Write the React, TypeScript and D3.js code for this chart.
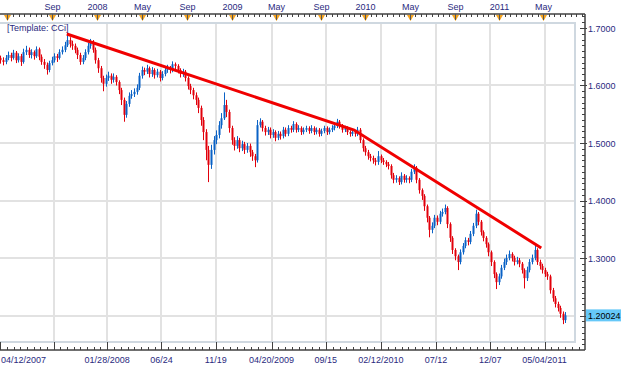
import React from 'react';
import * as d3 from 'd3';

// weekly bars, first bar on 04/12/2007, open of bar i = close of bar i-1
const firstDate = new Date(2007, 3, 12);
const firstOpen = 1.648;

const closes = [
  1.644, 1.641, 1.648, 1.653, 1.648, 1.657, 1.644, 1.651, 1.641, 1.658,
  1.662, 1.653, 1.658, 1.651, 1.663, 1.650, 1.641, 1.636, 1.627, 1.639,
  1.644, 1.651, 1.648, 1.658, 1.662, 1.670, 1.679, 1.672, 1.669, 1.662,
  1.653, 1.641, 1.648, 1.658, 1.669, 1.676, 1.662, 1.644, 1.630, 1.613,
  1.603, 1.613, 1.617, 1.610, 1.615, 1.606, 1.592, 1.575, 1.549, 1.568,
  1.582, 1.585, 1.589, 1.596, 1.617, 1.627, 1.624, 1.630, 1.620, 1.627,
  1.618, 1.624, 1.613, 1.620, 1.627, 1.630, 1.627, 1.637, 1.634, 1.627,
  1.620, 1.624, 1.613, 1.599, 1.592, 1.583, 1.575, 1.561, 1.540, 1.519,
  1.488, 1.462, 1.488, 1.505, 1.514, 1.531, 1.543, 1.566, 1.554, 1.526,
  1.505, 1.495, 1.505, 1.491, 1.498, 1.488, 1.495, 1.484, 1.477, 1.470,
  1.531, 1.537, 1.526, 1.519, 1.523, 1.514, 1.519, 1.509, 1.516, 1.512,
  1.523, 1.516, 1.526, 1.523, 1.533, 1.523, 1.526, 1.519, 1.523, 1.526,
  1.521, 1.526, 1.519, 1.523, 1.516, 1.521, 1.526, 1.519, 1.523, 1.526,
  1.530, 1.537, 1.530, 1.523, 1.526, 1.519, 1.516, 1.519, 1.516, 1.523,
  1.505, 1.491, 1.484, 1.477, 1.474, 1.470, 1.467, 1.477, 1.470, 1.467,
  1.463, 1.460, 1.444, 1.436, 1.439, 1.432, 1.443, 1.436, 1.439, 1.436,
  1.450, 1.457, 1.436, 1.418, 1.408, 1.390, 1.370, 1.349, 1.356, 1.370,
  1.363, 1.377, 1.380, 1.387, 1.359, 1.335, 1.314, 1.303, 1.293, 1.310,
  1.321, 1.331, 1.328, 1.342, 1.356, 1.377, 1.363, 1.345, 1.335, 1.324,
  1.310, 1.293, 1.272, 1.258, 1.268, 1.283, 1.293, 1.300, 1.307, 1.300,
  1.293, 1.296, 1.290, 1.279, 1.265, 1.279, 1.293, 1.300, 1.314, 1.293,
  1.286, 1.279, 1.272, 1.268, 1.244, 1.230, 1.220, 1.213, 1.203, 1.192,
  1.20024,
];

const highs = [
  1.652, 1.649, 1.653, 1.659, 1.657, 1.662, 1.660, 1.656, 1.655, 1.664,
  1.669, 1.666, 1.663, 1.661, 1.668, 1.666, 1.654, 1.646, 1.640, 1.643,
  1.650, 1.656, 1.655, 1.663, 1.668, 1.676, 1.688, 1.684, 1.678, 1.673,
  1.666, 1.657, 1.653, 1.663, 1.674, 1.681, 1.679, 1.666, 1.648, 1.634,
  1.617, 1.619, 1.624, 1.621, 1.621, 1.618, 1.609, 1.596, 1.579, 1.573,
  1.588, 1.592, 1.595, 1.602, 1.622, 1.633, 1.631, 1.636, 1.633, 1.632,
  1.630, 1.629, 1.627, 1.625, 1.632, 1.636, 1.634, 1.642, 1.640, 1.637,
  1.630, 1.629, 1.627, 1.616, 1.603, 1.596, 1.588, 1.579, 1.565, 1.545,
  1.524, 1.495, 1.497, 1.512, 1.522, 1.538, 1.552, 1.588, 1.575, 1.558,
  1.530, 1.510, 1.512, 1.509, 1.504, 1.502, 1.500, 1.499, 1.488, 1.481,
  1.540, 1.543, 1.540, 1.530, 1.528, 1.527, 1.524, 1.522, 1.521, 1.520,
  1.528, 1.527, 1.531, 1.530, 1.538, 1.536, 1.531, 1.529, 1.527, 1.530,
  1.529, 1.531, 1.529, 1.527, 1.526, 1.525, 1.530, 1.529, 1.527, 1.531,
  1.535, 1.542, 1.540, 1.533, 1.530, 1.529, 1.522, 1.523, 1.522, 1.528,
  1.526, 1.508, 1.495, 1.488, 1.481, 1.478, 1.474, 1.486, 1.480, 1.474,
  1.470, 1.467, 1.463, 1.448, 1.444, 1.442, 1.449, 1.446, 1.444, 1.442,
  1.455, 1.463, 1.460, 1.439, 1.421, 1.411, 1.393, 1.373, 1.362, 1.375,
  1.374, 1.382, 1.386, 1.393, 1.390, 1.362, 1.338, 1.317, 1.306, 1.315,
  1.326, 1.336, 1.335, 1.347, 1.361, 1.384, 1.380, 1.366, 1.348, 1.338,
  1.327, 1.313, 1.296, 1.275, 1.273, 1.288, 1.299, 1.306, 1.313, 1.310,
  1.304, 1.302, 1.300, 1.293, 1.282, 1.285, 1.298, 1.306, 1.326, 1.317,
  1.297, 1.290, 1.283, 1.276, 1.271, 1.248, 1.234, 1.224, 1.217, 1.207,
  1.206,
];

const lows = [
  1.638, 1.635, 1.637, 1.644, 1.642, 1.645, 1.639, 1.640, 1.634, 1.638,
  1.653, 1.648, 1.647, 1.645, 1.648, 1.644, 1.636, 1.629, 1.619, 1.623,
  1.635, 1.640, 1.641, 1.645, 1.654, 1.658, 1.667, 1.666, 1.662, 1.656,
  1.646, 1.636, 1.637, 1.644, 1.654, 1.664, 1.657, 1.638, 1.622, 1.605,
  1.590, 1.598, 1.608, 1.603, 1.605, 1.600, 1.585, 1.566, 1.537, 1.544,
  1.563, 1.577, 1.580, 1.584, 1.592, 1.612, 1.618, 1.620, 1.614, 1.615,
  1.612, 1.614, 1.607, 1.609, 1.616, 1.622, 1.621, 1.623, 1.628, 1.621,
  1.614, 1.615, 1.607, 1.593, 1.585, 1.576, 1.566, 1.552, 1.530, 1.505,
  1.470, 1.432, 1.455, 1.480, 1.498, 1.508, 1.525, 1.540, 1.545, 1.518,
  1.497, 1.487, 1.490, 1.484, 1.486, 1.481, 1.483, 1.476, 1.469, 1.458,
  1.466, 1.527, 1.520, 1.513, 1.514, 1.508, 1.509, 1.503, 1.505, 1.506,
  1.508, 1.511, 1.512, 1.518, 1.519, 1.518, 1.519, 1.514, 1.515, 1.519,
  1.516, 1.517, 1.514, 1.515, 1.511, 1.512, 1.517, 1.514, 1.515, 1.519,
  1.522, 1.526, 1.525, 1.518, 1.519, 1.514, 1.511, 1.512, 1.511, 1.512,
  1.500, 1.485, 1.478, 1.471, 1.468, 1.464, 1.461, 1.462, 1.465, 1.462,
  1.458, 1.454, 1.438, 1.430, 1.431, 1.427, 1.428, 1.431, 1.431, 1.430,
  1.432, 1.446, 1.430, 1.412, 1.401, 1.382, 1.362, 1.336, 1.343, 1.352,
  1.357, 1.359, 1.372, 1.376, 1.352, 1.328, 1.307, 1.296, 1.279, 1.289,
  1.306, 1.317, 1.322, 1.324, 1.338, 1.352, 1.357, 1.339, 1.329, 1.318,
  1.303, 1.286, 1.265, 1.246, 1.253, 1.264, 1.279, 1.288, 1.296, 1.294,
  1.287, 1.289, 1.284, 1.273, 1.247, 1.260, 1.275, 1.289, 1.296, 1.288,
  1.280, 1.273, 1.267, 1.262, 1.238, 1.224, 1.214, 1.207, 1.196, 1.185,
  1.187,
];

// trend line drawn over the bars
const trendDates = [new Date(2007, 9, 10), new Date(2009, 11, 1), new Date(2011, 3, 25)];
const trendPrices = [1.6896, 1.5226, 1.3174];

// bottom axis labelled dates
const bottomTickDates = [
  new Date(2007, 3, 12), new Date(2007, 8, 4), new Date(2008, 0, 28), new Date(2008, 5, 24),
  new Date(2008, 10, 19), new Date(2009, 3, 20), new Date(2009, 8, 15), new Date(2010, 1, 12),
  new Date(2010, 6, 12), new Date(2010, 11, 7), new Date(2011, 4, 4), new Date(2011, 8, 30),
];
const bottomTickLabels = [
  '04/12/2007', '', '01/28/2008', '06/24', '11/19', '04/20/2009',
  '09/15', '02/12/2010', '07/12', '12/07', '05/04/2011', '',
];

const priceTicks = [1.7, 1.6, 1.5, 1.4, 1.3, 1.2];
const lastPrice = '1.20024';
const templateLabel = '[Template: CCi]';

const W = 625;
const H = 368;
const plotRight = 575;
const axisRight = 585;
const topAxisY = 14;
const bottomAxisY = 350;
const panelTop = 23;
const panelBottom = 342;

const UP = '#0a62c6';
const DOWN = '#e2000b';
const TEXT = '#2a2a80';
const FONT = 'Liberation Sans, Arial, sans-serif';
const monthNames = ['Jan', 'Feb', 'Mar', 'Apr', 'May', 'Jun', 'Jul', 'Aug', 'Sep', 'Oct', 'Nov', 'Dec'];

const App: React.FC = () => {
  const x = d3.scaleTime()
    .domain([new Date(2007, 3, 11), new Date(2011, 6, 26)])
    .range([0, plotRight]);
  const y = d3.scaleLinear()
    .domain([1.2, 1.7])
    .range([315.5, 28]);

  // top axis: every 4 months
  const topMajors = d3.timeMonth.every(4)!.range(new Date(2007, 3, 1), new Date(2011, 7, 1));
  const topMinors: number[] = [];
  topMajors.forEach((d, i) => {
    const x0 = x(d);
    const x1 = i < topMajors.length - 1 ? x(topMajors[i + 1]) : x0 + (x0 - x(topMajors[i - 1]));
    for (let k = 1; k < 8; k++) topMinors.push(x0 + ((x1 - x0) * k) / 8);
  });

  const bottomMinors: number[] = [];
  bottomTickDates.forEach((d, i) => {
    if (i === bottomTickDates.length - 1) return;
    const x0 = x(d);
    const x1 = x(bottomTickDates[i + 1]);
    for (let k = 1; k < 8; k++) bottomMinors.push(x0 + ((x1 - x0) * k) / 8);
  });

  const minorPrices = d3.range(115, 173).map((v) => v / 100);

  const trendLine = d3.line<number>()
    .x((_, i) => x(trendDates[i]))
    .y((p) => y(p));

  return (
    <svg width={W} height={H} style={{ position: 'absolute', left: 0, top: 0, background: '#fff' }}>
      {/* grid */}
      <g stroke="#e2e2e2" strokeWidth={2}>
        {bottomTickDates.slice(1).map((d, i) => {
          const xx = Math.round(x(d));
          return xx < plotRight ? <line key={i} x1={xx} x2={xx} y1={panelTop} y2={panelBottom} /> : null;
        })}
        {priceTicks.slice(1).map((p) => (
          <line key={p} x1={0} x2={plotRight} y1={Math.round(y(p))} y2={Math.round(y(p))} />
        ))}
      </g>
      {/* panel frame */}
      <path
        d={`M0,${panelTop}H${plotRight}V${panelBottom}H0`}
        fill="none"
        stroke="#cfd8e0"
        strokeWidth={2}
      />

      <text x={7} y={31} fontFamily={FONT} fontSize={9} fill={TEXT}>{templateLabel}</text>

      {/* bars */}
      <g>
        {closes.map((c, i) => {
          const o = i === 0 ? firstOpen : closes[i - 1];
          const xx = Math.round(x(d3.timeDay.offset(firstDate, 7 * i)));
          const col = c >= o ? UP : DOWN;
          const top = y(Math.max(o, c));
          const h = Math.max(1, Math.abs(y(o) - y(c)));
          return (
            <g key={i}>
              <rect x={xx} y={y(highs[i])} width={1} height={y(lows[i]) - y(highs[i])} fill={col} />
              <rect x={xx - 0.5} y={top} width={2} height={h} fill={col} />
            </g>
          );
        })}
      </g>

      {/* trend line */}
      <path d={trendLine(trendPrices) || ''} fill="none" stroke="#f00000" strokeWidth={3} />

      {/* axes lines */}
      <g stroke="#404040" strokeWidth={1.5} fill="none">
        <line x1={0} x2={axisRight} y1={topAxisY} y2={topAxisY} />
        <line x1={0} x2={axisRight} y1={bottomAxisY} y2={bottomAxisY} />
        <line x1={axisRight} x2={axisRight} y1={topAxisY} y2={bottomAxisY} />
      </g>

      {/* top axis */}
      <g stroke="#404040" strokeWidth={1}>
        {topMinors.filter((v) => v < axisRight).map((v, i) => (
          <line key={i} x1={Math.round(v) + 0.5} x2={Math.round(v) + 0.5} y1={topAxisY} y2={topAxisY + 3} />
        ))}
      </g>
      {topMajors.map((d, i) => {
        const xx = Math.round(x(d)) + 0.5;
        const label = d.getMonth() === 0 ? String(d.getFullYear()) : monthNames[d.getMonth()];
        return (
          <g key={i}>
            <path d={`M${xx - 3.5},${topAxisY + 1}L${xx + 3.5},${topAxisY + 1}L${xx},${topAxisY + 7}Z`} fill="#f5a31e" />
            <line x1={xx} x2={xx} y1={topAxisY} y2={topAxisY + 6} stroke="#555" strokeWidth={1} />
            {i > 0 && (
              <text x={xx} y={10} textAnchor="middle" fontFamily={FONT} fontSize={9} fill={TEXT}>{label}</text>
            )}
          </g>
        );
      })}

      {/* bottom axis */}
      <g stroke="#404040" strokeWidth={1}>
        {bottomMinors.filter((v) => v < axisRight).map((v, i) => (
          <line key={i} x1={Math.round(v) + 0.5} x2={Math.round(v) + 0.5} y1={bottomAxisY - 3} y2={bottomAxisY} />
        ))}
        {bottomTickDates.map((d, i) => {
          const xx = Math.round(x(d)) + 0.5;
          return xx < axisRight ? <line key={'m' + i} x1={xx} x2={xx} y1={bottomAxisY - 8} y2={bottomAxisY} /> : null;
        })}
      </g>
      {bottomTickDates.map((d, i) => (
        <text
          key={i}
          x={i === 0 ? 1 : x(d)}
          y={363}
          textAnchor={i === 0 ? 'start' : 'middle'}
          fontFamily={FONT}
          fontSize={9}
          fill={TEXT}
        >
          {bottomTickLabels[i]}
        </text>
      ))}

      {/* right axis */}
      <g stroke="#404040" strokeWidth={1}>
        {minorPrices.map((p) => {
          const yy = Math.round(y(p)) + 0.5;
          return yy > topAxisY + 2 && yy < bottomAxisY - 2 ? (
            <line key={p} x1={axisRight - 3} x2={axisRight} y1={yy} y2={yy} />
          ) : null;
        })}
        {priceTicks.map((p) => (
          <line key={'M' + p} x1={axisRight - 5} x2={axisRight + 2} y1={Math.round(y(p)) + 0.5} y2={Math.round(y(p)) + 0.5} />
        ))}
      </g>
      {priceTicks.slice(0, 5).map((p) => (
        <text key={p} x={588} y={y(p) + 3.5} fontFamily={FONT} fontSize={9} fill={TEXT}>
          {d3.format('.4f')(p)}
        </text>
      ))}
      <rect x={586} y={y(+lastPrice) - 6} width={35} height={12} fill="#66c8f8" />
      <text x={588} y={y(+lastPrice) + 3.5} fontFamily={FONT} fontSize={9} fill="#000">{lastPrice}</text>
    </svg>
  );
};

export default App;
